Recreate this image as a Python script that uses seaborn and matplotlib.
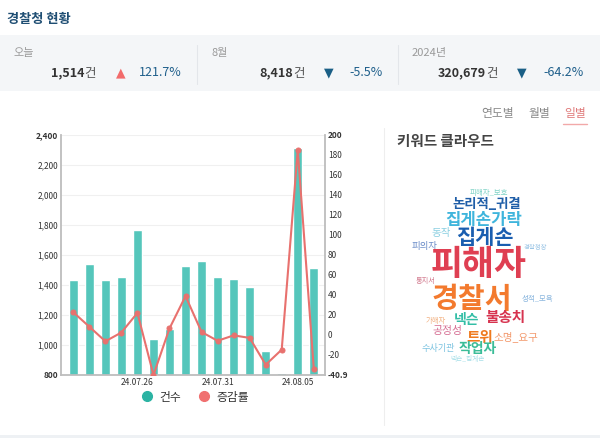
import matplotlib
matplotlib.use("Agg")
import matplotlib.pyplot as plt
from matplotlib.patches import Rectangle
from matplotlib.lines import Line2D
from matplotlib.ticker import FuncFormatter
import seaborn as sns
import pandas as pd

# ---------------- data ----------------
dates = ["24.07.22", "24.07.23", "24.07.24", "24.07.25", "24.07.26", "24.07.27",
         "24.07.28", "24.07.29", "24.07.30", "24.07.31", "24.08.01", "24.08.02",
         "24.08.03", "24.08.04", "24.08.05", "24.08.06"]
counts = [1432, 1539, 1430, 1454, 1765, 1043, 1104, 1526, 1557, 1454, 1437, 1384,
          960, 811, 2309, 1514]
rates = [22.0, 7.5, -7.1, 1.7, 21.4, -40.9, 5.8, 38.2, 2.2, -6.6, -1.2, -3.7,
         -30.6, -15.5, 184.7, -34.4]
tick_dates = ["24.07.26", "24.07.31", "24.08.05"]

stat_labels = ["오늘", "8월", "2024년"]
stat_counts = ["1,514", "8,418", "320,679"]
stat_changes = ["121.7%", "-5.5%", "-64.2%"]
stat_up = [True, False, False]

tabs = ["연도별", "월별", "일별"]
cloud_words = ["피해자_보호", "논리적_귀결", "집게손가락", "동작", "집게손", "피의자",
               "경찰청장", "피해자", "통지서", "경찰서", "성적_모욕", "넥슨", "불송치",
               "가해자", "공정성", "트위", "소명_요구", "수사기관", "작업자", "넥슨_집게손"]

# ---------------- style ----------------
sns.set_theme(style="white")
plt.rcParams['font.family'] = ['Noto Sans CJK KR', 'DejaVu Sans']

W, H = 600, 438
fig = plt.figure(figsize=(6, 4.38), dpi=100)
fig.patch.set_facecolor("white")

def fx(x):
    return x / W

def fy(y):
    return 1 - y / H

def ftext(x, y, s, **kw):
    fig.text(fx(x), fy(y), s, **kw)

# header band
fig.add_artist(Rectangle((0, fy(91)), 1, (91 - 35) / H, transform=fig.transFigure,
                         facecolor="#f4f6f8", edgecolor="none", zorder=0))
for sx in [197, 398]:
    fig.add_artist(Line2D([fx(sx), fx(sx)], [fy(45), fy(84)], transform=fig.transFigure,
                          color="#e3e6ea", lw=0.8))
# bottom card edge
fig.add_artist(Rectangle((0, 0), 1, 3 / H, transform=fig.transFigure,
                         facecolor="#eef1f4", edgecolor="none", zorder=0))
fig.add_artist(Line2D([fx(384), fx(384)], [fy(128), fy(425)], transform=fig.transFigure,
                      color="#eeeeee", lw=0.8))

ftext(7, 19, "경찰청 현황", fontsize=9.5, fontweight="bold", color="#1f4e73",
      ha="left", va="center")

label_x = [13, 212, 412]
count_right = [96, 305, 498]
arrow_x = [121, 329, 522]
change_right = [182, 383, 584]
for i in range(3):
    ftext(label_x[i], 53, stat_labels[i], fontsize=8, color="#9a9a9a", ha="left", va="center")
    ftext(count_right[i] - 12, 73, stat_counts[i], fontsize=9, fontweight="bold",
          color="#333333", ha="right", va="center")
    ftext(count_right[i], 73, "건", fontsize=9, color="#555555", ha="right", va="center")
    if stat_up[i]:
        ftext(arrow_x[i], 73, "▲", fontsize=9, color="#f26b6b", ha="center", va="center",
              family=["DejaVu Sans"])
    else:
        ftext(arrow_x[i], 73, "▼", fontsize=9, color="#1a5f86", ha="center", va="center",
              family=["DejaVu Sans"])
    ftext(change_right[i], 73, stat_changes[i], fontsize=9, color="#1f5f8b",
          ha="right", va="center")

# tabs
tab_x = [498, 539, 575]
for i, t in enumerate(tabs):
    c = "#e07a7a" if i == 2 else "#888888"
    ftext(tab_x[i], 114, t, fontsize=8.5, color=c, ha="center", va="center")
fig.add_artist(Line2D([fx(563), fx(587)], [fy(123.5), fy(123.5)], transform=fig.transFigure,
                      color="#f2a9a9", lw=1.0))

# ---------------- chart ----------------
df = pd.DataFrame({"date": dates, "count": counts, "rate": rates})
ax = fig.add_axes([fx(60.7), fy(375), (325 - 60.7) / W, (375 - 134.7) / H])
sns.barplot(data=df, x="date", y="count", color="#55c6bb", width=0.55, saturation=1,
            ax=ax, zorder=2)
ax.set_ylim(800, 2400)
ax.set_yticks(list(range(800, 2401, 200)))
ax.yaxis.set_major_formatter(FuncFormatter(lambda v, p: f"{int(v):,}"))
ax.set_xlim(-0.786, 15.70)
ax.set_xticks([dates.index(d) for d in tick_dates])
ax.set_xticklabels(tick_dates)
ax.set_xlabel("")
ax.set_ylabel("")
ax.grid(axis="y", color="#f0f0f0", lw=0.8, zorder=0)
ax.set_axisbelow(True)
ax.tick_params(axis="both", length=0, labelsize=6, colors="#333333", pad=2)
for sp in ["top", "right"]:
    ax.spines[sp].set_visible(False)
for sp in ["left", "bottom"]:
    ax.spines[sp].set_color("#bdbdbd")
    ax.spines[sp].set_linewidth(1.3)
for lbl in ax.get_yticklabels():
    if lbl.get_text() in ("2,400", "800"):
        lbl.set_fontweight("bold")

ax2 = ax.twinx()
sns.lineplot(data=df, x="date", y="rate", color="#e8716e", lw=1.5, marker="o",
             markersize=3.6, markeredgecolor="#e8716e", ax=ax2, sort=False)
ax2.set_ylim(-40.9, 200)
ax2.set_yticks([-40.9] + list(range(-20, 201, 20)))
ax2.yaxis.set_major_formatter(FuncFormatter(lambda v, p: f"{v:g}"))
ax2.set_xlim(-0.786, 15.70)
ax2.set_ylabel("")
ax2.set_xlabel("")
ax2.tick_params(axis="both", length=0, labelsize=6, colors="#333333", pad=2)
for sp in ["top", "left", "bottom"]:
    ax2.spines[sp].set_visible(False)
ax2.spines["right"].set_color("#bdbdbd")
ax2.spines["right"].set_linewidth(1.3)
for lbl in ax2.get_yticklabels():
    if lbl.get_text() in ("200", "-40.9"):
        lbl.set_fontweight("bold")
ax2.grid(False)

handles = [Line2D([], [], marker="o", linestyle="", color="#2bb3a3", markersize=7),
           Line2D([], [], marker="o", linestyle="", color="#f07070", markersize=7)]
fig.legend(handles, ["건수", "증감률"], loc="center", bbox_to_anchor=(fx(192), fy(397)),
           ncol=2, frameon=False, fontsize=8.5, handletextpad=0.05, columnspacing=1.0,
           labelcolor="#333333")

# ---------------- word cloud ----------------
ftext(397, 141, "키워드 클라우드", fontsize=10.5, fontweight="bold", color="#444444",
      ha="left", va="center")
layout = [
    (489, 193, 5.4, "#7fd3c6"),
    (487, 204, 9.6, "#1f5ea8"),
    (484, 220, 12.0, "#3fb5dc"),
    (441, 233, 7.6, "#8dd0e2"),
    (485, 238, 15.0, "#1a5eb0"),
    (424, 247, 6.8, "#6a8cc8"),
    (535, 247, 4.6, "#9cc6e6"),
    (479, 265, 25.0, "#df3f52"),
    (426, 281, 5.2, "#d27a8e"),
    (472, 299, 21.0, "#f37a2e"),
    (537, 299, 5.4, "#8ab6de"),
    (467, 320, 10.0, "#33bea6"),
    (505, 317, 10.5, "#d7334f"),
    (436, 321, 5.3, "#f2b182"),
    (447, 331, 7.8, "#d66f93"),
    (480, 337, 10.5, "#ef7a1f"),
    (516, 337, 7.6, "#f39a6e"),
    (438, 349, 6.6, "#7cc3e0"),
    (478, 349, 10.0, "#3bbd98"),
    (468, 359, 4.8, "#a6dfe8"),
]
for w, (x, y, s, c) in zip(cloud_words, layout):
    ftext(x, y, w, fontsize=s, color=c, ha="center", va="center",
          fontweight="bold" if s >= 9 else "normal")

fig.savefig("out.png", dpi=100)
